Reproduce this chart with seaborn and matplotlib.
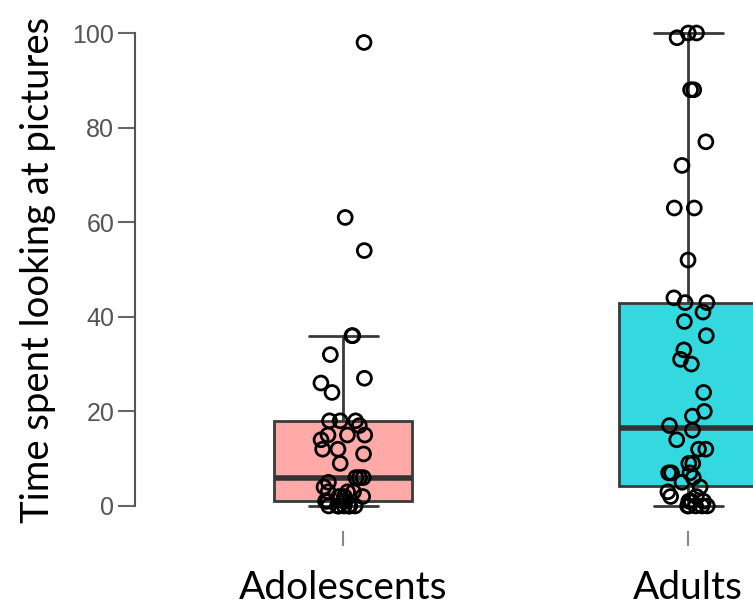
import numpy as np
import pandas as pd
import matplotlib
matplotlib.use("Agg")
import matplotlib.pyplot as plt
import seaborn as sns

# data
groups = ["Adolescents", "Adults"]
adolescents = [98, 61, 54, 36, 36, 32, 27, 26, 24, 18, 18, 18, 17, 15, 15, 15, 14,
               12, 12, 11, 9, 6, 6, 6, 5, 4, 3, 3, 3, 2, 2, 2, 1, 1, 1, 1,
               0, 0, 0, 0, 0, 0, 0, 0, 0]
adults = [100, 100, 99, 88, 88, 77, 72, 63, 63, 52, 44, 43, 43, 41, 39, 36, 33, 31,
          30, 24, 20, 19, 17, 16, 14, 12, 12, 9, 9, 7, 7, 7, 6, 5, 4, 3, 2, 2,
          1, 1, 1, 0, 0, 0, 0, 0]
box_colors = ["#FFAAA8", "#33D9DE"]

df = pd.DataFrame({
    "group": [groups[0]] * len(adolescents) + [groups[1]] * len(adults),
    "time": adolescents + adults,
})

sns.set_style("white")

fig = plt.figure(figsize=(7.53, 6.08), dpi=100)
ax = fig.add_axes([0.1793, 0.1266, 0.8207, 0.8580])

sns.boxplot(data=df, x="group", y="time", hue="group", order=groups,
            hue_order=groups, palette=box_colors, width=0.4, saturation=1,
            showfliers=False, linecolor="#3a3a3a", linewidth=2,
            medianprops=dict(linewidth=4, color="#333333"),
            legend=False, ax=ax)

# jittered raw points on top
np.random.seed(4)
sns.stripplot(data=df, x="group", y="time", order=groups, jitter=0.065,
              size=10, color="black", linewidth=2, edgecolor="black", ax=ax)
for coll in ax.collections:
    coll.set_facecolor("none")
    coll.set_edgecolor("black")
    coll.set_zorder(5)
    coll.set_clip_on(False)

ax.set_xlim(-0.603, 1.188)
ax.set_ylim(-5.3, 105)
ax.set_yticks([0, 20, 40, 60, 80, 100])

for side in ["top", "right", "bottom"]:
    ax.spines[side].set_visible(False)
ax.spines["left"].set_bounds(0, 100)
ax.spines["left"].set_color("#555555")
ax.spines["left"].set_linewidth(1.5)

ax.tick_params(axis="y", left=True, length=12, width=1.5, color="#666666", pad=3,
               labelsize=18, labelcolor="#555555")
ax.tick_params(axis="x", bottom=True, length=11, width=1.5, color="#888888",
               pad=17, labelsize=28, labelcolor="black")
for lab in ax.get_yticklabels():
    lab.set_family("Liberation Sans")
for lab in ax.get_xticklabels():
    lab.set_family("Lato")

ax.set_xlabel("")
ax.set_ylabel("Time spent looking at pictures", fontsize=27.5, family="Lato",
              color="black", labelpad=12)

fig.savefig("out.png", dpi=100)
